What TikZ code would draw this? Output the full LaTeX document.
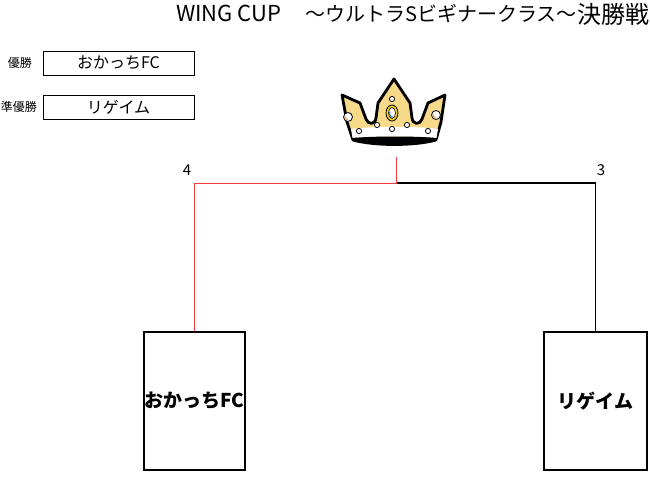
\documentclass[tikz,border=0pt]{standalone}
\usepackage{fontspec}
\setmainfont{Noto Sans CJK JP}
\usetikzlibrary{positioning}
\definecolor{crownyellow}{HTML}{F7D98A}
\definecolor{gemgold}{HTML}{F2CF1D}
\definecolor{gemblue}{HTML}{4A7FD0}
\definecolor{gemorange}{HTML}{F0A040}
\definecolor{winred}{HTML}{F03C3C}
\tikzset{
  % small result boxes, top left
  entry/.style={draw, line width=0.8pt, minimum width=151pt, minimum height=24pt, inner sep=0pt, font=\fontsize{16}{18}\selectfont},
  rank/.style={inner sep=0pt, font=\fontsize{12}{14}\selectfont},
  % team boxes at the foot of the bracket
  team/.style={draw, line width=2.6pt, minimum height=138pt, inner sep=0pt, font=\bfseries\fontsize{19}{21}\selectfont},
  score/.style={inner sep=0pt, font=\fontsize{15}{17}\selectfont},
  % bracket lines
  win/.style={winred, line width=0.9pt},
  lose/.style={black, line width=1.3pt},
  pearl/.style={fill=white, draw=black, line width=0.8pt},
}

\begin{document}
\begin{tikzpicture}[x=1pt, y=-1pt]
  \useasboundingbox (0,0) rectangle (650,482);

  % title
  \node[inner sep=0pt, anchor=base west, font=\fontsize{22}{24}\selectfont] (wing) at (176,21) {WING CUP};
  \node[inner sep=0pt, anchor=west, font=\fontsize{20}{22}\selectfont] (kata) at (305,14) {～ウルトラSビギナークラス～};
  \node[inner sep=0pt, anchor=west, font=\fontsize{24}{26}\selectfont] (final) [right=0pt of kata] {決勝戦};

  % results
  \node[rank] (first) at (20,63) {優勝};
  \node[entry] (champ) at (118.5,63) {おかっちFC};
  \node[entry] (runner) [below=20pt of champ] {リゲイム};
  \node[rank] (second) at (19,107) {準優勝};

  % crown
  \draw[fill=crownyellow, line width=2.8pt, line join=round]
    (342,95) -- (360,103) -- (366,119) .. controls (368,125) and (375,125) .. (376,118)
    -- (378,103) -- (394,79) -- (410,103) -- (412,118) .. controls (413,125) and (420,125) .. (422,119)
    -- (428,103) -- (445,95) -- (441,122) -- (436,140) .. controls (415,146) and (374,146) .. (353,140)
    -- (347,122) -- cycle;
  \fill[white] (351,129) .. controls (375,126) and (415,126) .. (438,129)
    -- (436.5,138) .. controls (415,136) and (375,136) .. (352.5,138) -- cycle;
  \fill (352,138) .. controls (375,136) and (415,136) .. (437,138)
    -- (436,141) .. controls (415,146) and (374,146) .. (353,141) -- cycle;
  \draw[fill=gemgold, line width=0.8pt] (392,113) ellipse (6 and 8);
  \draw[fill=white, line width=0.6pt] (392,113) ellipse (3.5 and 5.5);
  \draw[gemblue, line width=1.2pt] (392,113) ++(70:2.5 and 4.3) arc (70:200:2.5 and 4.3);
  \foreach \px/\py in {392/99, 377/125, 392/129, 407/125, 359/131, 428/131}
    \draw[pearl] (\px,\py) circle (2.6);
  \foreach \px/\py in {348/117, 436/115} {
    \draw[pearl] (\px,\py) circle (4.5);
    \draw[gemorange, line width=1.2pt] (\px,\py) ++(100:3) arc (100:200:3);
  }

  % bracket
  \node[team, minimum width=101pt] (okachi) at (194.5,401) {おかっちFC};
  \node[team, minimum width=103pt] (rigeimu) at (595.5,401) {リゲイム};
  \coordinate (mid) at (396,183);
  \coordinate (crownfoot) at (396,157);
  \draw[lose] (rigeimu.north) |- (mid);
  \draw[win] (okachi.north) |- (mid) -- (crownfoot);
  \node[score] (scoreL) at (187,170) {4};
  \node[score] (scoreR) at (601,170) {3};
\end{tikzpicture}
\end{document}
